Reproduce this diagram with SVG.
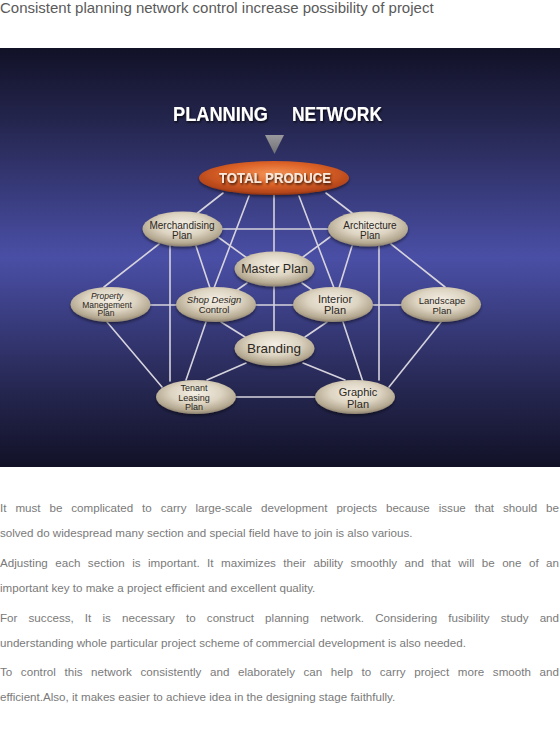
<svg xmlns="http://www.w3.org/2000/svg" width="560" height="742" viewBox="0 0 560 742">
<defs>
<linearGradient id="bg" x1="0" y1="0" x2="0" y2="1">
<stop offset="0" stop-color="#111127"/>
<stop offset="0.18" stop-color="#25264f"/>
<stop offset="0.5" stop-color="#4a4fa6"/>
<stop offset="0.82" stop-color="#25264f"/>
<stop offset="1" stop-color="#111127"/>
</linearGradient>
<radialGradient id="nodeFill" cx="50%" cy="38%" r="62%">
<stop offset="0" stop-color="#f4efe5"/>
<stop offset="0.5" stop-color="#ddd4c2"/>
<stop offset="0.85" stop-color="#b4a890"/>
<stop offset="1" stop-color="#8c8170"/>
</radialGradient>
<radialGradient id="tpFill" cx="50%" cy="38%" r="62%">
<stop offset="0" stop-color="#f49458"/>
<stop offset="0.5" stop-color="#de6428"/>
<stop offset="0.88" stop-color="#b5461b"/>
<stop offset="1" stop-color="#8a3312"/>
</radialGradient>
<linearGradient id="triFill" x1="0" y1="0" x2="0" y2="1">
<stop offset="0" stop-color="#9a9a9e"/>
<stop offset="1" stop-color="#707074"/>
</linearGradient>
<filter id="sh" x="-20%" y="-30%" width="140%" height="170%">
<feDropShadow dx="0" dy="2" stdDeviation="1.5" flood-color="#000" flood-opacity="0.45"/>
</filter>
<filter id="tsh" x="-10%" y="-30%" width="120%" height="170%">
<feDropShadow dx="1" dy="1.5" stdDeviation="0.8" flood-color="#000" flood-opacity="0.8"/>
</filter>
</defs>
<style>
.conn line{stroke:#d6d3dd;stroke-width:1.6;stroke-linecap:round}
.node ellipse{fill:url(#nodeFill);filter:url(#sh)}
.lbl{font-family:"Liberation Sans",Arial,sans-serif;fill:#2b2722;text-anchor:middle}
.body{font-family:"Liberation Sans",Arial,sans-serif;font-size:11.6px;fill:#7a7a7a}
</style>
<rect x="0" y="0" width="560" height="742" fill="#ffffff"/>
<text x="0" y="13" font-family="'Liberation Sans',Arial,sans-serif" font-size="15" fill="#5a5a5a">Consistent planning network control increase possibility of project</text>
<rect x="0" y="48" width="560" height="419" fill="url(#bg)"/>
<g id="heading" filter="url(#tsh)">
<text x="173" y="121" font-family="'Liberation Sans',Arial,sans-serif" font-weight="bold" font-size="21" fill="#ffffff" textLength="95" lengthAdjust="spacingAndGlyphs">PLANNING</text>
<text x="292" y="121" font-family="'Liberation Sans',Arial,sans-serif" font-weight="bold" font-size="21" fill="#ffffff" textLength="90" lengthAdjust="spacingAndGlyphs">NETWORK</text>
</g>
<polygon id="pointer" points="265,135 284,135 274.5,154" fill="url(#triFill)"/>
<g id="connectors" class="conn">
<line x1="223" y1="193" x2="197.5" y2="213"/>
<line x1="249" y1="196" x2="214" y2="288"/>
<line x1="274" y1="195" x2="274" y2="252"/>
<line x1="299" y1="196" x2="334" y2="288"/>
<line x1="326" y1="193" x2="352" y2="213"/>
<line x1="222" y1="229" x2="329" y2="229"/>
<line x1="218" y1="237" x2="247" y2="258"/>
<line x1="196" y1="246" x2="210" y2="288"/>
<line x1="159" y1="244" x2="104" y2="287"/>
<line x1="170" y1="245" x2="170" y2="381"/>
<line x1="330" y1="237" x2="303" y2="257"/>
<line x1="352" y1="246" x2="339" y2="288"/>
<line x1="391" y1="244" x2="445" y2="287"/>
<line x1="379" y1="246" x2="379" y2="380"/>
<line x1="247" y1="283" x2="237" y2="290"/>
<line x1="302" y1="283" x2="312" y2="290"/>
<line x1="274" y1="286" x2="274" y2="332"/>
<line x1="150" y1="305" x2="177" y2="305"/>
<line x1="255" y1="305" x2="294" y2="305"/>
<line x1="373" y1="305" x2="402" y2="305"/>
<line x1="107" y1="322" x2="162" y2="387"/>
<line x1="221" y1="322" x2="245" y2="337"/>
<line x1="206" y1="322" x2="186" y2="380"/>
<line x1="327" y1="322" x2="305" y2="337"/>
<line x1="343" y1="322" x2="363" y2="382"/>
<line x1="441" y1="322" x2="389" y2="387"/>
<line x1="246" y1="363" x2="207" y2="380"/>
<line x1="303" y1="363" x2="345" y2="380"/>
<line x1="236" y1="397" x2="316" y2="397"/>
</g>
<g id="total-produce">
<ellipse cx="274" cy="178" rx="75" ry="17" fill="url(#tpFill)" filter="url(#sh)"/>
<text x="275" y="183" font-family="'Liberation Sans',Arial,sans-serif" font-weight="bold" font-size="15" fill="#f8e8dc" text-anchor="middle" textLength="112" lengthAdjust="spacingAndGlyphs" filter="url(#tsh)">TOTAL PRODUCE</text>
</g>
<g id="merchandising" class="node">
<ellipse cx="182.5" cy="229" rx="40" ry="17.5"/>
<text class="lbl" x="182" y="229" font-size="10">Merchandising</text>
<text class="lbl" x="182" y="238.5" font-size="10">Plan</text>
</g>
<g id="architecture" class="node">
<ellipse cx="368" cy="229" rx="40" ry="17.5"/>
<text class="lbl" x="370" y="229" font-size="10">Architecture</text>
<text class="lbl" x="370" y="238.5" font-size="10">Plan</text>
</g>
<g id="master-plan" class="node">
<ellipse cx="274.5" cy="269" rx="40" ry="17.5"/>
<text class="lbl" x="274.5" y="273" font-size="12.5">Master Plan</text>
</g>
<g id="property" class="node">
<ellipse cx="110.5" cy="304.5" rx="40" ry="17.5"/>
<text class="lbl" x="107" y="299" font-size="8.5" font-style="italic">Property</text>
<text class="lbl" x="107" y="307.5" font-size="8.5">Manegement</text>
<text class="lbl" x="106" y="316" font-size="8.5">Plan</text>
</g>
<g id="shop-design" class="node">
<ellipse cx="216" cy="304.5" rx="40" ry="17.5"/>
<text class="lbl" x="214" y="303" font-size="9.5" font-style="italic">Shop Design</text>
<text class="lbl" x="214" y="312.5" font-size="9.5">Control</text>
</g>
<g id="interior" class="node">
<ellipse cx="333" cy="304.5" rx="40" ry="17.5"/>
<text class="lbl" x="335" y="303" font-size="11">Interior</text>
<text class="lbl" x="335" y="313.5" font-size="11">Plan</text>
</g>
<g id="landscape" class="node">
<ellipse cx="441" cy="304.5" rx="40" ry="17.5"/>
<text class="lbl" x="442" y="304" font-size="9.5">Landscape</text>
<text class="lbl" x="442" y="313.5" font-size="9.5">Plan</text>
</g>
<g id="branding" class="node">
<ellipse cx="274.5" cy="348.5" rx="40" ry="17.5"/>
<text class="lbl" x="274" y="353" font-size="13.5">Branding</text>
</g>
<g id="tenant" class="node">
<ellipse cx="196" cy="397" rx="40" ry="17"/>
<text class="lbl" x="194" y="391" font-size="9">Tenant</text>
<text class="lbl" x="194" y="400.5" font-size="9">Leasing</text>
<text class="lbl" x="194" y="410" font-size="9">Plan</text>
</g>
<g id="graphic" class="node">
<ellipse cx="355" cy="397" rx="40" ry="17"/>
<text class="lbl" x="358" y="396" font-size="11">Graphic</text>
<text class="lbl" x="358" y="407.5" font-size="11">Plan</text>
</g>
<g id="body-text" class="body">
<text x="0" y="512" word-spacing="5.7" textLength="559" lengthAdjust="spacing">It must be complicated to carry large-scale development projects because issue that should be</text>
<text x="0" y="537">solved do widespread many section and special field have to join is also various.</text>
<text x="0" y="567" word-spacing="4.2" textLength="559" lengthAdjust="spacing">Adjusting each section is important. It maximizes their ability smoothly and that will be one of an</text>
<text x="0" y="592">important key to make a project efficient and excellent quality.</text>
<text x="0" y="622" word-spacing="7.9" textLength="559" lengthAdjust="spacing">For success, It is necessary to construct planning network. Considering fusibility study and</text>
<text x="0" y="647">understanding whole particular project scheme of commercial development is also needed.</text>
<text x="0" y="676" word-spacing="5.3" textLength="559" lengthAdjust="spacing">To control this network consistently and elaborately can help to carry project more smooth and</text>
<text x="0" y="701">efficient.Also, it makes easier to achieve idea in the designing stage faithfully.</text>
</g>
</svg>
